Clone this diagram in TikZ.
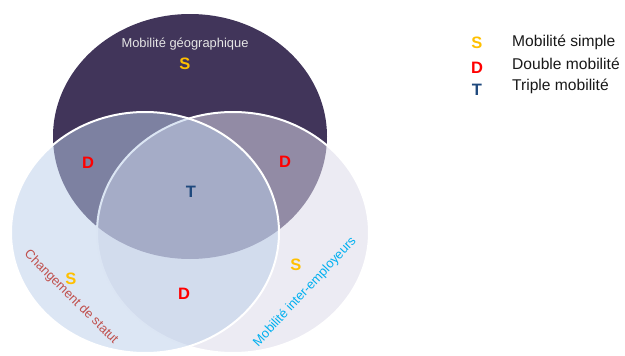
\documentclass[tikz,border=0pt]{standalone}
\usepackage{fontspec}
\setmainfont{Liberation Sans}
\definecolor{geoviolet}{RGB}{65,53,90}
\definecolor{statutbleu}{RGB}{185,205,233}
\definecolor{employlilas}{RGB}{219,217,232}
\definecolor{simplejaune}{RGB}{255,192,0}
\definecolor{doublerouge}{RGB}{255,0,0}
\definecolor{triplebleu}{RGB}{31,73,125}
\definecolor{statutrouge}{RGB}{192,80,77}
\definecolor{employcyan}{RGB}{0,176,240}
\begin{document}
\begin{tikzpicture}[x=1pt,y=-1pt,
        lettre/.style = {font = \fontsize{16.5}{16.5}\selectfont\bfseries},
        titre/.style = {font = \fontsize{12.9}{15}\selectfont},
        legende/.style = {font = \fontsize{15.6}{18}\selectfont, anchor = base west, inner sep = 0pt, text = black!90}]
    \useasboundingbox (0,0) rectangle (625,356);
    % les trois ensembles
    \fill[geoviolet] (190,136.5) ellipse[x radius = 137pt, y radius = 122.5pt];
    \begin{scope}[draw = white, line width = 2pt]
        \filldraw[fill = employlilas, fill opacity = 0.53] (233,232.5) ellipse[x radius = 136pt, y radius = 120.5pt];
        \filldraw[fill = statutbleu, fill opacity = 0.5] (145,232.5) ellipse[x radius = 134pt, y radius = 120.5pt];
    \end{scope}
    % noms des ensembles
    \begin{scope}[every node/.append style = {titre}]
        \node[anchor = base, text = white!90!black] (geo) at (185,48) {Mobilité géographique};
        \node[rotate = -45, text = statutrouge] (statut) at (71,297) {Changement de statut};
        \node[rotate = 47, text = employcyan] (employ) at (305,292) {Mobilité inter-employeurs};
    \end{scope}
    % types de mobilite
    \begin{scope}[every node/.append style = {lettre}]
        \node[text = simplejaune] (sgeo) at (185,64) {S};
        \node[text = simplejaune] (sstatut) at (71,279) {S};
        \node[text = simplejaune] (semploy) at (296,265) {S};
        \node[text = doublerouge] (dgauche) at (88,163) {D};
        \node[text = doublerouge] (ddroite) at (285,162) {D};
        \node[text = doublerouge] (dbas) at (184,294) {D};
        \node[text = triplebleu] (tcentre) at (191,192) {T};
    \end{scope}
    % legende
    \begin{scope}[every node/.append style = {lettre}]
        \node[text = simplejaune] (lgs) at (477,43) {S};
        \node[text = doublerouge] (lgd) at (477,67.5) {D};
        \node[text = triplebleu] (lgt) at (477,90.3) {T};
    \end{scope}
    \node[legende] (lgsimple) at (512,46.5) {Mobilité simple};
    \node[legende] (lgdouble) at (512,69) {Double mobilité};
    \node[legende] (lgtriple) at (512,90) {Triple mobilité};
\end{tikzpicture}
\end{document}
